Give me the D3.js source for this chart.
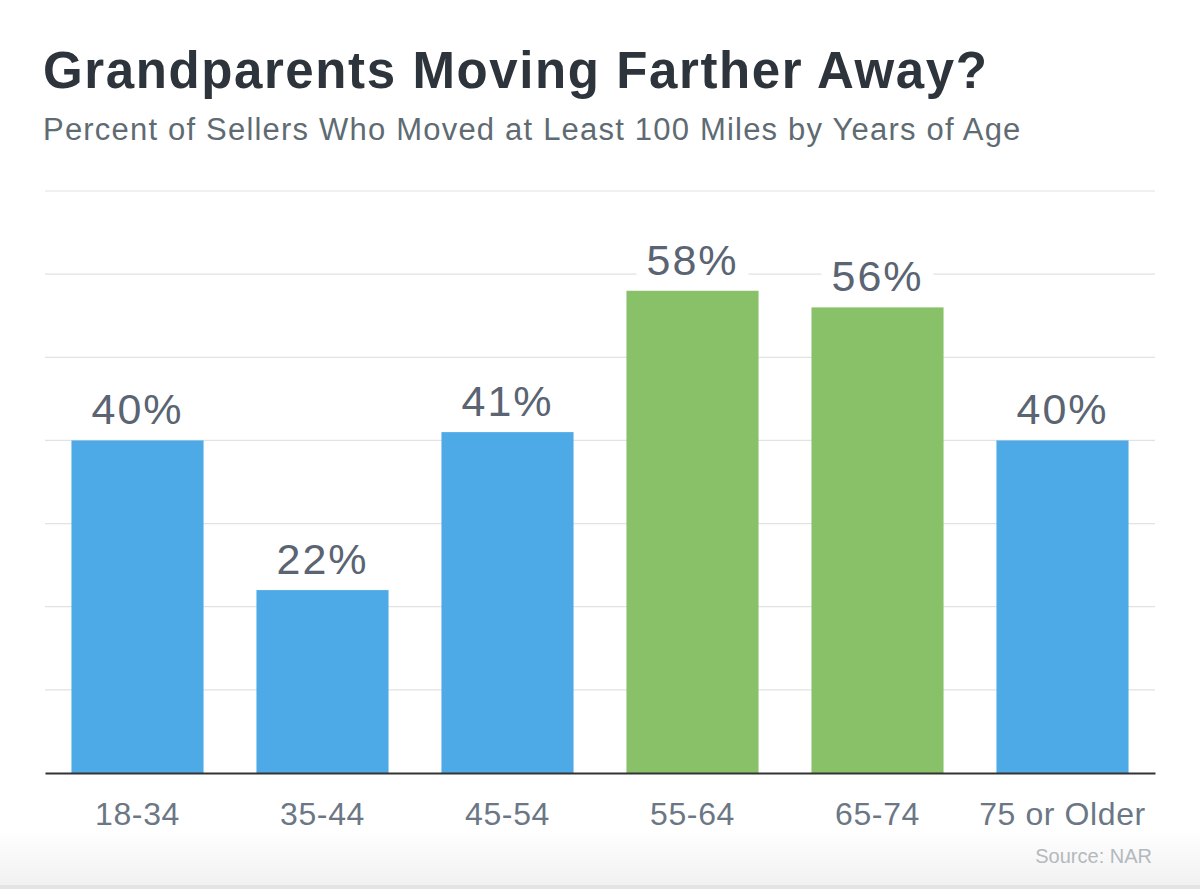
<!DOCTYPE html>
<html>
<head>
<meta charset="utf-8">
<script src="https://cdn.jsdelivr.net/npm/d3@7"></script>
<style>
  body { margin: 0; background: #fff; }
  text { font-family: "Liberation Sans", Arial, sans-serif; }
</style>
</head>
<body>
<div id="chart-area"></div>
<script>
let categories = ["18-34", "35-44", "45-54", "55-64", "65-74", "75 or Older"];
let values = [40, 22, 41, 58, 56, 40];
let highlight = [false, false, false, true, true, false];
let gridTicks = [10, 20, 30, 40, 50, 60, 70];

let margin = { left: 45, right: 45, top: 191, bottom: 116 };
let width = 1200 - margin.left - margin.right;
let height = 889 - margin.top - margin.bottom;

let root = d3.select("#chart-area")
    .append("svg")
    .attr("width", 1200)
    .attr("height", 889);

// faint shadow at the bottom of the card
let defs = root.append("defs");
let grad = defs.append("linearGradient")
    .attr("id", "bottom-shade")
    .attr("x1", 0).attr("y1", 0)
    .attr("x2", 0).attr("y2", 1);
grad.append("stop").attr("offset", "0%").attr("stop-color", "#ffffff");
grad.append("stop").attr("offset", "100%").attr("stop-color", "#f1f1f1");

root.append("rect")
    .attr("x", 0).attr("y", 830)
    .attr("width", 1200).attr("height", 55)
    .attr("fill", "url(#bottom-shade)");

root.append("rect")
    .attr("x", 0).attr("y", 885)
    .attr("width", 1200).attr("height", 4)
    .attr("fill", "#e4e4e4");

// Title + subtitle
root.append("text")
    .attr("x", 43)
    .attr("y", 88)
    .attr("font-size", 51)
    .attr("font-weight", "bold")
    .attr("letter-spacing", 1.6)
    .attr("fill", "#2e343b")
    .text("Grandparents Moving Farther Away?");

root.append("text")
    .attr("x", 43)
    .attr("y", 140)
    .attr("font-size", 31)
    .attr("letter-spacing", 1.2)
    .attr("fill", "#5f6b73")
    .text("Percent of Sellers Who Moved at Least 100 Miles by Years of Age");

let svg = root.append("g")
    .attr("transform", "translate(" + margin.left + "," + margin.top + ")");

let x = d3.scaleBand()
    .domain(categories)
    .range([0, width])
    .paddingInner(0.286)
    .paddingOuter(0.143);

let y = d3.scaleLinear()
    .domain([0, 70])
    .range([height, 0]);

// gridlines
svg.append("g")
    .attr("class", "grid")
    .selectAll("line")
    .data(gridTicks)
    .enter()
    .append("line")
    .attr("x1", 0)
    .attr("x2", width)
    .attr("y1", d => y(d))
    .attr("y2", d => y(d))
    .attr("stroke", "#e2e2e2")
    .attr("stroke-width", 1.2);

// bars
svg.append("g")
    .selectAll("rect")
    .data(values)
    .enter()
    .append("rect")
    .attr("x", (d, i) => x(categories[i]))
    .attr("y", d => y(d))
    .attr("width", x.bandwidth())
    .attr("height", d => height - y(d))
    .attr("fill", (d, i) => highlight[i] ? "#88c168" : "#4eaae7");

// value labels with white knockout behind
let labels = svg.append("g")
    .selectAll("g")
    .data(values)
    .enter()
    .append("g")
    .attr("transform", (d, i) => "translate(" + (x(categories[i]) + x.bandwidth() / 2) + "," + (y(d) - 16) + ")");

labels.append("rect")
    .attr("x", -56)
    .attr("y", -36)
    .attr("width", 112)
    .attr("height", 42)
    .attr("fill", "#fff");

labels.append("text")
    .attr("text-anchor", "middle")
    .attr("font-size", 43)
    .attr("letter-spacing", 2)
    .attr("fill", "#5a6472")
    .text(d => d + "%");

// X axis
let xAxis = d3.axisBottom(x).tickSize(0).tickPadding(0);

let xg = svg.append("g")
    .attr("class", "x-axis")
    .attr("transform", "translate(0," + height + ")")
    .call(xAxis);

xg.select(".domain")
    .attr("stroke", "#333")
    .attr("stroke-width", 2);

xg.selectAll("text")
    .attr("dy", 0)
    .attr("y", 52)
    .attr("font-size", 32)
    .attr("letter-spacing", 0.6)
    .attr("fill", "#6b7785");

// Source
root.append("text")
    .attr("x", 1152)
    .attr("y", 863)
    .attr("text-anchor", "end")
    .attr("font-size", 20)
    .attr("fill", "#b3b9be")
    .text("Source: NAR");
</script>
</body>
</html>
